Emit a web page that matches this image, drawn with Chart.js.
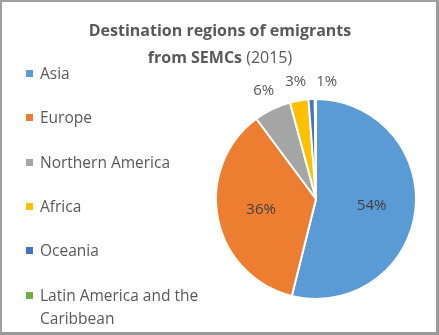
<!DOCTYPE html>
<html>
<head>
<meta charset="utf-8">
<script src="https://cdn.jsdelivr.net/npm/chart.js@4.4.1/dist/chart.umd.min.js"></script>
<style>
  html, body { margin: 0; padding: 0; background: #fff; }
  #wrap { position: relative; width: 439px; height: 335px; box-sizing: border-box;
          border-left: 2px solid #a0a0a0; border-top: 2px solid #a0a0a0;
          border-right: 3px solid #9a9a9a; border-bottom: 3px solid #9a9a9a; }
  #chart { position: absolute; left: -2px; top: -2px; }
  #legend { position: absolute; left: 0; top: 0; font-family: 'Open Sans', sans-serif; font-size: 15.5px; color: #595959; }
  .item { position: absolute; left: 24px; width: 195px; line-height: 23px; }
  .item i { position: absolute; left: 0; top: 8px; width: 7px; height: 7px; }
  .item span { display: block; margin-left: 14px; width: 178px; }
</style>
</head>
<body>
<div id="wrap">
  <canvas id="chart" width="439" height="335"></canvas>
  <div id="legend"></div>
</div>
<script>
// data
const regions = ['Asia', 'Europe', 'Northern America', 'Africa', 'Oceania', 'Latin America and the Caribbean'];
const shares = [54, 36, 6, 3, 1, 0.2];
const sliceColors = ['#5B9BD5', '#ED7D31', '#A5A5A5', '#FFC000', '#4472C4', '#70AD47'];
const titleLines = [
  [{ t: 'Destination regions of emigrants', bold: true }],
  [{ t: 'from SEMCs', bold: true }, { t: ' (2015)', bold: false }],
];

// legend (html)
const legendEl = document.getElementById('legend');
regions.forEach((r, i) => {
  const d = document.createElement('div');
  d.className = 'item';
  d.style.top = (60 + i * 44.3) + 'px';
  d.innerHTML = '<i style="background:' + sliceColors[i] + '"></i><span>' + r + '</span>';
  legendEl.appendChild(d);
});

const titlePlugin = {
  id: 'mixedTitle',
  afterDraw(chart) {
    const ctx = chart.ctx;
    ctx.save();
    ctx.fillStyle = '#595959';
    ctx.textBaseline = 'middle';
    const fontOf = b => (b ? 'bold ' : '') + '16px "Open Sans", sans-serif';
    titleLines.forEach((parts, li) => {
      let w = 0;
      parts.forEach(p => { ctx.font = fontOf(p.bold); w += ctx.measureText(p.t).width; });
      let x = 220 - w / 2;
      const y = 31 + li * 27;
      parts.forEach(p => {
        ctx.font = fontOf(p.bold);
        ctx.textAlign = 'left';
        ctx.fillText(p.t, x, y);
        x += ctx.measureText(p.t).width;
      });
    });
    ctx.restore();
  }
};

const pctLabels = {
  id: 'pctLabels',
  afterDatasetsDraw(chart) {
    const ctx = chart.ctx;
    const meta = chart.getDatasetMeta(0);
    const data = chart.data.datasets[0].data;
    const outside = [];
    ctx.save();
    ctx.font = '15px "Open Sans", sans-serif';
    ctx.textAlign = 'center';
    ctx.textBaseline = 'middle';
    meta.data.forEach((arc, i) => {
      const v = data[i];
      if (v < 0.5) return;
      const txt = Math.round(v) + '%';
      const mid = (arc.startAngle + arc.endAngle) / 2;
      if (v >= 10) {
        const r = arc.outerRadius * 0.56;
        ctx.fillStyle = '#404040';
        ctx.fillText(txt, arc.x + Math.cos(mid) * r, arc.y + Math.sin(mid) * r);
      } else {
        const r = arc.outerRadius + 20;
        outside.push({ txt, x: arc.x + Math.cos(mid) * r, y: arc.y + Math.sin(mid) * r, w: ctx.measureText(txt).width });
      }
    });
    outside.sort((a, b) => a.x - b.x);
    for (let k = 1; k < outside.length; k++) {
      const p = outside[k - 1], q = outside[k];
      const minX = p.x + p.w / 2 + 10 + q.w / 2;
      if (q.x < minX) q.x = minX;
    }
    ctx.fillStyle = '#595959';
    outside.forEach(o => ctx.fillText(o.txt, o.x, Math.max(o.y, 82)));
    ctx.restore();
  }
};

new Chart(document.getElementById('chart'), {
  type: 'pie',
  data: {
    labels: regions,
    datasets: [{
      data: shares,
      backgroundColor: sliceColors,
      borderColor: '#ffffff',
      borderWidth: 2,
    }]
  },
  options: {
    responsive: false,
    animation: false,
    layout: { padding: { left: 213, right: 20, top: 98, bottom: 35 } },
    plugins: { legend: { display: false }, tooltip: { enabled: false }, title: { display: false } }
  },
  plugins: [titlePlugin, pctLabels]
});
</script>
</body>
</html>
